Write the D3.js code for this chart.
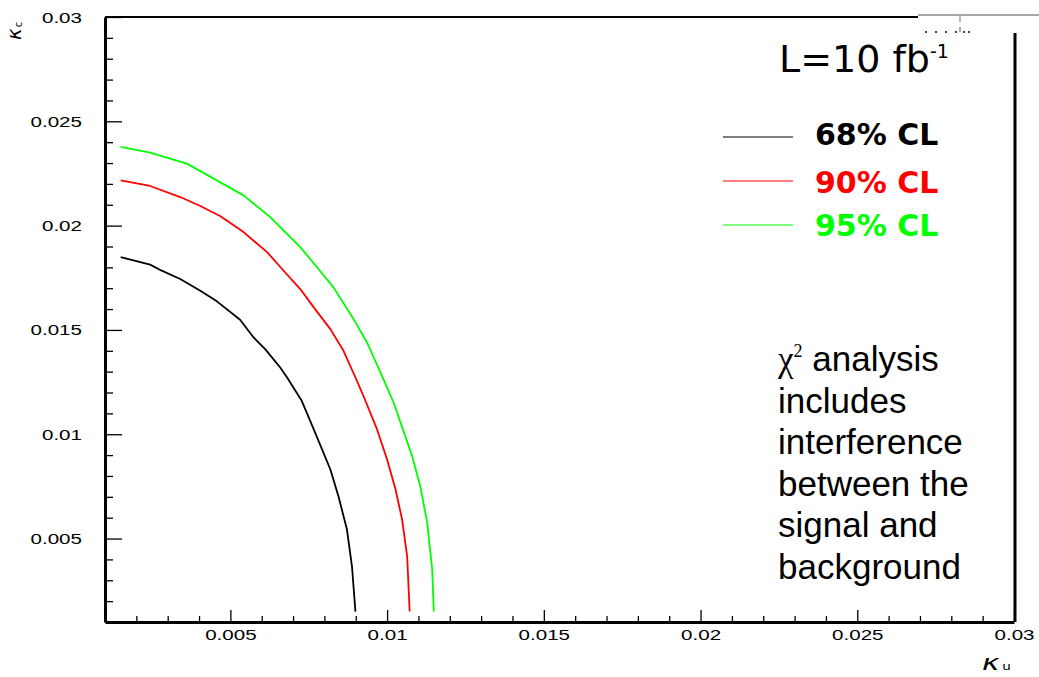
<!DOCTYPE html>
<html>
<head>
<meta charset="utf-8">
<script src="https://cdn.jsdelivr.net/npm/d3@7"></script>
<style>
  html, body { margin: 0; padding: 0; background: #fff; }
  svg { display: block; }
</style>
</head>
<body>
<svg id="chart" width="1039" height="677"></svg>
<script>
// ---------- data ----------
const seriesNames = ["68% CL", "90% CL", "95% CL"];
const seriesColors = ["#000000", "#ff0000", "#00ff00"];

const kuBlack = [0.00150,0.00244,0.00281,0.00340,0.00404,0.00457,0.00531,0.00574,0.00611,0.00659,0.00681,0.00728,0.00766,0.00819,0.00845,0.00872,0.00888,0.00899];
const kcBlack = [0.01849,0.01813,0.01784,0.01744,0.01688,0.01637,0.01549,0.01464,0.01408,0.01320,0.01272,0.01159,0.01023,0.00831,0.00702,0.00542,0.00366,0.00150];

const kuRed = [0.00150,0.00244,0.00340,0.00404,0.00467,0.00542,0.00617,0.00665,0.00723,0.00766,0.00819,0.00861,0.00899,0.00920,0.00968,0.01000,0.01027,0.01048,0.01064,0.01072];
const kcRed = [0.02217,0.02190,0.02137,0.02094,0.02046,0.01969,0.01873,0.01792,0.01696,0.01608,0.01504,0.01400,0.01272,0.01200,0.01023,0.00879,0.00735,0.00590,0.00414,0.00150];

const kuGreen = [0.00150,0.00244,0.00361,0.00457,0.00542,0.00627,0.00723,0.00781,0.00829,0.00893,0.00936,0.00984,0.01021,0.01080,0.01106,0.01128,0.01144,0.01149];
const kcGreen = [0.02377,0.02350,0.02297,0.02217,0.02145,0.02041,0.01897,0.01792,0.01704,0.01552,0.01440,0.01279,0.01151,0.00895,0.00750,0.00575,0.00350,0.00150];

const xMajorTicks = [0.005, 0.01, 0.015, 0.02, 0.025, 0.03];
const xTickLabels = ["0.005", "0.01", "0.015", "0.02", "0.025", "0.03"];
const yMajorTicks = [0.005, 0.01, 0.015, 0.02, 0.025, 0.03];
const yTickLabels = ["0.005", "0.01", "0.015", "0.02", "0.025", "0.03"];
const minorTicks = [0.002,0.003,0.004,0.006,0.007,0.008,0.009,0.011,0.012,0.013,0.014,0.016,0.017,0.018,0.019,0.021,0.022,0.023,0.024,0.026,0.027,0.028,0.029];

const noteLines = ["analysis", "includes", "interference", "between the", "signal and", "background"];

// ---------- layout ----------
const svg = d3.select("#chart");
const padL = 105, padR = 1014, padT = 17, padB = 622;

const x = d3.scaleLinear().domain([0.001, 0.03]).range([padL, padR]);
const y = d3.scaleLinear().domain([0.001, 0.03]).range([padB, padT]);

const tickFont = "'Liberation Sans', Arial, sans-serif";
const sx = 1.47;

// ---------- frame top / right ----------
svg.append("line").attr("x1", padL).attr("x2", 918).attr("y1", padT).attr("y2", padT)
  .attr("stroke", "#000").attr("stroke-width", 2);
svg.append("line").attr("x1", padR + 1).attr("x2", padR + 1).attr("y1", 33).attr("y2", padB)
  .attr("stroke", "#000").attr("stroke-width", 3);
// pasted patch remnants in the top-right corner
svg.append("line").attr("x1", 918).attr("x2", 1039).attr("y1", 15).attr("y2", 15)
  .attr("stroke", "#a8a8a8").attr("stroke-width", 2);
svg.append("line").attr("x1", 960).attr("x2", 960).attr("y1", 15).attr("y2", 22)
  .attr("stroke", "#777").attr("stroke-width", 1);
svg.append("line").attr("x1", 960).attr("x2", 960).attr("y1", 27).attr("y2", 32)
  .attr("stroke", "#555").attr("stroke-width", 1);
[926, 936, 946, 956, 964, 969].forEach(dx => {
  svg.append("rect").attr("x", dx - 1).attr("y", 31).attr("width", 2).attr("height", 2).attr("fill", "#444");
});

// ---------- axes ----------
const yAxis = d3.axisLeft(y).tickValues(yMajorTicks).tickSizeInner(-17).tickSizeOuter(0)
  .tickFormat((d, i) => yTickLabels[i]);
const gy = svg.append("g").attr("transform", `translate(${padL},0)`).call(yAxis);
gy.select(".domain").attr("stroke", "#000").attr("stroke-width", 3);
gy.selectAll(".tick line").attr("stroke", "#000").attr("stroke-width", 1.3);
gy.selectAll(".tick text")
  .attr("x", null).attr("dy", "0.36em")
  .attr("transform", `translate(-23,0) scale(${sx},1)`)
  .attr("text-anchor", "end")
  .style("font-family", tickFont).style("font-size", "14px").attr("fill", "#000");

const yMinor = d3.axisLeft(y).tickValues(minorTicks).tickSizeInner(-8).tickSizeOuter(0).tickFormat("");
const gym = svg.append("g").attr("transform", `translate(${padL},0)`).call(yMinor);
gym.select(".domain").remove();
gym.selectAll(".tick line").attr("stroke", "#000").attr("stroke-width", 1.3);

const xAxis = d3.axisBottom(x).tickValues(xMajorTicks).tickSizeInner(-12).tickSizeOuter(0)
  .tickFormat((d, i) => xTickLabels[i]);
const gx = svg.append("g").attr("transform", `translate(0,${padB})`).call(xAxis);
gx.select(".domain").attr("stroke", "#000").attr("stroke-width", 3);
gx.selectAll(".tick line").attr("stroke", "#000").attr("stroke-width", 1.3);
gx.selectAll(".tick text")
  .attr("y", 0).attr("dy", 0)
  .attr("transform", `translate(0,18) scale(${sx},1)`)
  .attr("text-anchor", "middle")
  .style("font-family", tickFont).style("font-size", "14px").attr("fill", "#000");

const xMinor = d3.axisBottom(x).tickValues(minorTicks).tickSizeInner(-6).tickSizeOuter(0).tickFormat("");
const gxm = svg.append("g").attr("transform", `translate(0,${padB})`).call(xMinor);
gxm.select(".domain").remove();
gxm.selectAll(".tick line").attr("stroke", "#000").attr("stroke-width", 1.3);

// axis titles
const kc = svg.append("text").attr("transform", "translate(21,40) rotate(-90) scale(1.1,1.1)")
  .attr("text-anchor", "start")
  .style("font-family", "'DejaVu Sans', sans-serif").style("font-style", "italic")
  .style("font-size", "18px").attr("fill", "#000");
kc.append("tspan").text("κ");
kc.append("tspan").attr("dx", 1).attr("dy", 1).style("font-size", "9px").style("font-style", "normal").text("c");

const ku = svg.append("text").attr("transform", "translate(982,670) scale(1.35,1)")
  .style("font-family", "'DejaVu Sans', sans-serif").style("font-style", "italic")
  .style("font-size", "22px").attr("fill", "#000");
ku.append("tspan").text("κ");
ku.append("tspan").attr("dx", 2).attr("dy", 0).style("font-size", "10px").style("font-style", "normal").text("u");

// ---------- curves ----------
const curves = [
  { name: seriesNames[0], color: seriesColors[0], xs: kuBlack, ys: kcBlack },
  { name: seriesNames[1], color: seriesColors[1], xs: kuRed, ys: kcRed },
  { name: seriesNames[2], color: seriesColors[2], xs: kuGreen, ys: kcGreen }
];
const line = d3.line().x(d => x(d[0])).y(d => y(d[1]));
svg.append("g").selectAll("path").data(curves).join("path")
  .attr("d", c => line(c.xs.map((v, i) => [v, c.ys[i]])))
  .attr("fill", "none")
  .attr("stroke", c => c.color)
  .attr("stroke-width", 1.8)
  .attr("stroke-linejoin", "round");

// ---------- luminosity label ----------
const lum = svg.append("text").attr("x", 779).attr("y", 72)
  .style("font-family", "'DejaVu Sans', sans-serif").style("font-size", "38px").attr("fill", "#000");
lum.append("tspan").text("L=10 fb");
lum.append("tspan").attr("dy", -14).style("font-size", "19px").text("-1");

// ---------- legend ----------
const legendY = [137, 181, 225];
const legendTextY = [145, 193, 236];
const lg = svg.append("g");
curves.forEach((c, i) => {
  lg.append("line").attr("x1", 723).attr("x2", 793).attr("y1", legendY[i]).attr("y2", legendY[i])
    .attr("stroke", c.color).attr("stroke-width", 1);
  lg.append("text").attr("x", 815).attr("y", legendTextY[i])
    .style("font-family", "'DejaVu Sans', sans-serif").style("font-weight", "bold")
    .style("font-size", "30px").attr("fill", c.color).text(c.name);
});

// ---------- note ----------
const note = svg.append("g").style("font-family", "'Liberation Sans', Arial, sans-serif")
  .style("font-size", "35px").attr("fill", "#000");
const noteBase = 371, noteStep = 41.6;
noteLines.forEach((t, i) => {
  const tx = note.append("text").attr("x", 778).attr("y", noteBase + i * noteStep);
  if (i === 0) {
    tx.append("tspan").style("font-family", "'Liberation Serif', 'Times New Roman', serif").text("χ");
    tx.append("tspan").attr("dy", -14).style("font-size", "18px")
      .style("font-family", "'Liberation Serif', 'Times New Roman', serif").text("2");
    tx.append("tspan").attr("dy", 14).text(" " + t);
  } else {
    tx.text(t);
  }
});
</script>
</body>
</html>
